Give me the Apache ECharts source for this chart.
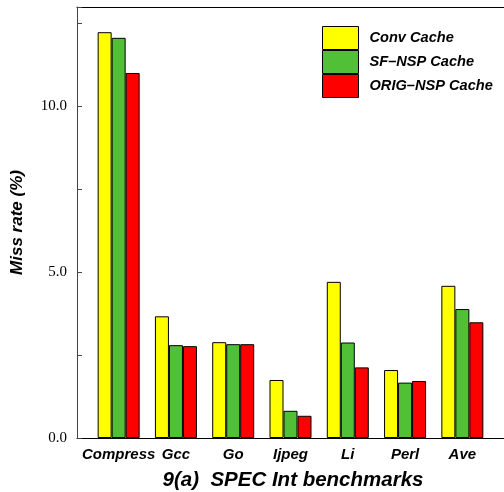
<!DOCTYPE html>
<html><head><meta charset="utf-8">
<script src="https://cdn.jsdelivr.net/npm/echarts@6/dist/echarts.min.js"></script>
<style>html,body{margin:0;padding:0;background:#fff}#c{width:504px;height:492px}</style>
</head><body><div id="c"></div>
<script>
const categories = ['Compress','Gcc','Go','Ijpeg','Li','Perl','Ave'];
const seriesNames = ['Conv Cache','SF\u2013NSP Cache','ORIG\u2013NSP Cache'];
const convCache = [12.24, 3.67, 2.89, 1.75, 4.71, 2.05, 4.59];
const sfNspCache = [12.07, 2.80, 2.83, 0.82, 2.88, 1.67, 3.89];
const origNspCache = [11.01, 2.77, 2.83, 0.67, 2.13, 1.72, 3.49];
const yTickLabels = ['0.0','5.0','10.0'];
const colors = ['#ffff00','#52c036','#ff0000'];

const chart = echarts.init(document.getElementById('c'), null, {renderer:'canvas'});
const fontBI = {fontFamily:'Liberation Sans, Arial, sans-serif', fontWeight:'bold', fontStyle:'italic', color:'#000'};
const dataSets = [convCache, sfNspCache, origNspCache];
chart.setOption({
  animation:false,
  title:{text:'9(a)  SPEC Int benchmarks', left:288, top:465, textAlign:'center',
    textStyle:Object.assign({fontSize:20.5}, fontBI)},
  legend:{orient:'vertical', left:317, top:21, itemWidth:36, itemHeight:23, itemGap:0,
    icon:'rect', data:seriesNames,
    textStyle:Object.assign({fontSize:14.6, padding:[0,0,0,6]}, fontBI),
    itemStyle:{borderColor:'#000', borderWidth:1}},
  grid:[
    {left:90, right:13, top:7, bottom:54},
    {left:77, right:0, top:7, bottom:54}
  ],
  xAxis:[
    {type:'category', gridIndex:0, data:categories,
      axisLine:{show:false}, axisTick:{show:false},
      axisLabel:Object.assign({fontSize:15, margin:9, interval:0}, fontBI)},
    {type:'value', gridIndex:1, min:0, max:1, position:'bottom',
      axisLine:{show:true, lineStyle:{color:'#000', width:1}}, axisTick:{show:false},
      axisLabel:{show:false}, splitLine:{show:false}},
    {type:'value', gridIndex:1, min:0, max:1, position:'top',
      axisLine:{show:true, lineStyle:{color:'#000', width:1}}, axisTick:{show:false},
      axisLabel:{show:false}, splitLine:{show:false}}
  ],
  yAxis:[
    {type:'value', gridIndex:0, min:0, max:13, show:false},
    {type:'value', gridIndex:1, min:0, max:13, interval:2.5,
      name:'Miss rate (%)', nameLocation:'middle', nameGap:51,
      nameTextStyle:Object.assign({fontSize:17}, fontBI),
      axisLine:{show:true, lineStyle:{color:'#444', width:1}},
      axisTick:{show:true, inside:true, length:5, lineStyle:{color:'#444'}},
      splitLine:{show:false},
      axisLabel:{fontFamily:'Liberation Serif, Times New Roman, serif', fontSize:15, color:'#000', margin:10,
        formatter:function(v){ const i = Math.round(v/5); return (Math.abs(v - i*5) < 1e-6 && yTickLabels[i]) ? yTickLabels[i] : ''; }}}
  ],
  series: seriesNames.map((n,i)=>({
    name:n, type:'bar', xAxisIndex:0, yAxisIndex:0, data:dataSets[i],
    barWidth:14, barGap:'0%',
    itemStyle:{color:colors[i], borderColor:'#000', borderWidth:1}
  }))
});
</script></body></html>
